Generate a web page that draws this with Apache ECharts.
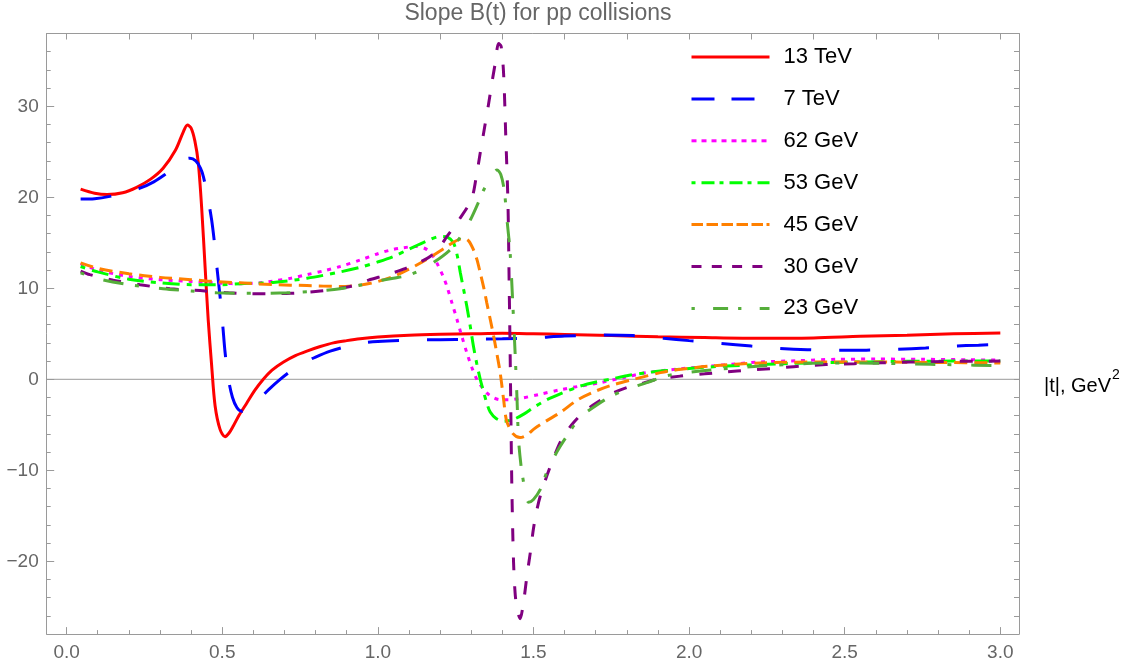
<!DOCTYPE html>
<html>
<head>
<meta charset="utf-8">
<script src="https://cdn.jsdelivr.net/npm/echarts@6/dist/echarts.min.js"></script>
<style>
html,body{margin:0;padding:0;background:#fff;}
#chart{width:1129px;height:663px;}
</style>
</head>
<body>
<div id="chart"></div>
<script>
const seriesNames = ['13 TeV','7 TeV','62 GeV','53 GeV','45 GeV','30 GeV','23 GeV'];
const xMajorTicks = [0,0.5,1.0,1.5,2.0,2.5,3.0];
const yMajorTicks = [-20,-10,0,10,20,30];

const s13TeV = [[0.045,20.9],[0.09,20.45],[0.13,20.3],[0.18,20.5],[0.225,21.1],[0.27,22.0],[0.31,23.2],[0.35,25.2],[0.375,27.2],[0.388,27.95],[0.4,27.6],[0.412,26.2],[0.423,23.8],[0.434,18.8],[0.445,12.3],[0.455,6.5],[0.466,1.5],[0.477,-2.9],[0.493,-5.5],[0.509,-6.3],[0.522,-5.9],[0.536,-5.1],[0.555,-3.9],[0.579,-2.6],[0.605,-1.2],[0.632,0],[0.66,1.0],[0.697,1.9],[0.735,2.6],[0.772,3.1],[0.815,3.6],[0.857,4.0],[0.9,4.25],[0.943,4.46],[1.0,4.65],[1.1,4.85],[1.2,4.95],[1.3,5.0],[1.4,5.05],[1.5,5.0],[1.6,4.93],[1.75,4.8],[1.9,4.68],[2.05,4.58],[2.23,4.5],[2.4,4.55],[2.55,4.72],[2.7,4.85],[2.85,5.0],[3.0,5.1]];
const s7TeV = [[0.045,19.8],[0.09,19.85],[0.139,20.1],[0.19,20.5],[0.236,21.0],[0.28,21.7],[0.316,22.5],[0.35,23.4],[0.375,24.1],[0.396,24.3],[0.415,24.0],[0.43,23.2],[0.44,22.2],[0.455,19.7],[0.466,17.5],[0.475,15.0],[0.482,12.6],[0.493,9.1],[0.502,5.8],[0.509,3.0],[0.52,0],[0.533,-2.0],[0.547,-3.1],[0.562,-3.5],[0.58,-3.3],[0.6,-2.8],[0.616,-2.3],[0.65,-1.1],[0.686,0],[0.72,0.9],[0.761,1.8],[0.8,2.45],[0.847,3.1],[0.9,3.6],[0.943,3.95],[1.0,4.15],[1.1,4.3],[1.2,4.35],[1.3,4.4],[1.4,4.45],[1.5,4.55],[1.6,4.75],[1.725,4.86],[1.82,4.8],[1.918,4.5],[2.0,4.25],[2.1,3.95],[2.2,3.65],[2.29,3.4],[2.38,3.25],[2.48,3.18],[2.57,3.2],[2.67,3.3],[2.76,3.45],[2.85,3.65],[2.93,3.75],[3.0,3.84]];
const s62GeV = [[0.045,12.7],[0.1,12.0],[0.2,11.3],[0.3,10.95],[0.4,10.75],[0.5,10.55],[0.557,10.5],[0.62,10.6],[0.664,10.8],[0.72,11.1],[0.772,11.5],[0.83,11.95],[0.879,12.4],[0.943,13.1],[1.0,13.8],[1.04,14.2],[1.08,14.45],[1.125,14.6],[1.158,14.25],[1.18,13.4],[1.195,12.4],[1.21,11.3],[1.222,10.2],[1.238,8.4],[1.254,6.6],[1.27,4.7],[1.286,2.9],[1.302,1.3],[1.318,0],[1.335,-0.9],[1.35,-1.5],[1.37,-2.0],[1.393,-2.25],[1.42,-2.25],[1.457,-2.1],[1.52,-1.65],[1.586,-1.15],[1.65,-0.75],[1.715,-0.37],[1.79,0.2],[1.864,0.73],[1.972,1.15],[2.07,1.46],[2.15,1.7],[2.23,1.9],[2.35,2.05],[2.475,2.2],[2.6,2.22],[2.75,2.2],[2.9,2.15],[3.0,2.1]];
const s53GeV = [[0.045,12.4],[0.1,11.8],[0.2,11.0],[0.3,10.6],[0.4,10.4],[0.5,10.4],[0.557,10.5],[0.664,10.65],[0.772,11.1],[0.879,11.8],[0.943,12.3],[1.0,12.9],[1.05,13.5],[1.1,14.3],[1.158,15.2],[1.2,15.7],[1.225,15.6],[1.243,15.0],[1.255,13.6],[1.265,11.7],[1.276,9.8],[1.286,8.0],[1.297,5.8],[1.307,3.65],[1.318,1.7],[1.329,0],[1.34,-1.4],[1.35,-2.6],[1.361,-3.6],[1.38,-4.3],[1.404,-4.6],[1.436,-4.4],[1.47,-3.8],[1.5,-3.1],[1.54,-2.3],[1.586,-1.6],[1.65,-0.75],[1.715,-0.18],[1.747,0],[1.8,0.4],[1.864,0.73],[1.908,0.91],[1.94,1.0],[2.02,1.25],[2.12,1.46],[2.23,1.62],[2.336,1.75],[2.45,1.85],[2.55,1.9],[2.7,1.97],[2.85,2.0],[3.0,2.0]];
const s45GeV = [[0.045,12.8],[0.1,12.2],[0.2,11.6],[0.3,11.2],[0.4,10.95],[0.45,10.8],[0.557,10.6],[0.664,10.4],[0.772,10.3],[0.879,10.2],[0.943,10.35],[1.0,10.75],[1.05,11.3],[1.1,12.1],[1.158,13.2],[1.222,14.6],[1.25,15.2],[1.276,15.5],[1.292,15.2],[1.307,14.25],[1.318,13.2],[1.329,11.7],[1.34,10.1],[1.35,8.4],[1.361,6.6],[1.372,4.75],[1.383,2.7],[1.393,0.73],[1.404,-2.2],[1.414,-4.6],[1.435,-6.0],[1.457,-6.4],[1.48,-6.1],[1.5,-5.5],[1.54,-4.6],[1.586,-3.65],[1.64,-2.3],[1.693,-1.4],[1.747,-0.7],[1.822,0],[1.908,0.73],[1.95,1.0],[2.07,1.46],[2.23,1.8],[2.44,1.9],[2.6,1.9],[2.8,1.85],[3.0,1.8]];
const s30GeV = [[0.045,11.9],[0.075,11.5],[0.15,10.9],[0.236,10.4],[0.332,9.95],[0.429,9.75],[0.52,9.5],[0.622,9.4],[0.72,9.45],[0.815,9.7],[0.911,10.2],[0.97,10.9],[1.03,11.5],[1.082,12.1],[1.13,12.8],[1.168,13.5],[1.2,14.6],[1.222,15.7],[1.26,17.5],[1.3,19.7],[1.315,22.0],[1.329,24.9],[1.343,27.7],[1.356,30.3],[1.367,32.7],[1.377,34.7],[1.388,36.9],[1.396,36.6],[1.404,33.6],[1.411,26.7],[1.418,19.4],[1.422,10.2],[1.425,2.9],[1.428,-5.5],[1.431,-12.8],[1.436,-20.1],[1.441,-23.5],[1.447,-25.2],[1.457,-26.3],[1.468,-24.5],[1.479,-21.6],[1.49,-19.0],[1.5,-16.4],[1.51,-14.5],[1.522,-12.8],[1.543,-10.6],[1.565,-8.6],[1.586,-6.9],[1.608,-5.7],[1.629,-4.75],[1.665,-3.5],[1.704,-2.56],[1.75,-1.6],[1.8,-0.9],[1.854,-0.4],[1.897,0],[1.972,0.35],[2.05,0.6],[2.154,0.91],[2.26,1.17],[2.336,1.39],[2.44,1.62],[2.53,1.72],[2.71,1.9],[2.85,1.97],[3.0,2.0]];
const s23GeV = [[0.045,11.7],[0.107,11.0],[0.2,10.4],[0.31,9.95],[0.4,9.7],[0.482,9.5],[0.6,9.45],[0.707,9.5],[0.8,9.7],[0.879,9.95],[0.95,10.4],[1.0,10.8],[1.05,11.1],[1.104,11.5],[1.168,12.6],[1.233,14.25],[1.27,15.9],[1.297,17.5],[1.32,19.2],[1.34,20.8],[1.36,22.0],[1.383,23.0],[1.395,22.5],[1.406,20.8],[1.415,17.5],[1.425,13.9],[1.434,8.0],[1.441,2.9],[1.447,-2.0],[1.452,-6.6],[1.46,-9.5],[1.468,-11.3],[1.476,-12.8],[1.484,-13.5],[1.5,-13.2],[1.522,-12.1],[1.543,-10.2],[1.575,-8.0],[1.608,-6.2],[1.65,-4.2],[1.7,-2.9],[1.747,-1.9],[1.8,-1.1],[1.864,-0.37],[1.93,0.4],[2.036,0.91],[2.13,1.2],[2.23,1.46],[2.39,1.75],[2.55,1.8],[2.7,1.7],[2.85,1.6],[3.0,1.5]];

const seriesData = [s13TeV, s7TeV, s62GeV, s53GeV, s45GeV, s30GeV, s23GeV];
const colors = ['#ff0000','#0000ff','#ff00ff','#00ff00','#ff8000','#800080','#55ae3a'];
const plotDash = ['solid',[31,28],[4,6],[5,7,17,7],[13,7],[13,16],[4,20,20,12]];
const legendDash = ['solid',[23,17],[5,5],[4,6,13,5],[11.5,3.5],[10,10.3],[3.3,18.3,15,10]];

function range(a, b, step) {
  const out = [];
  for (let v = a; v <= b + 1e-9; v += step) out.push(Math.round(v * 1000) / 1000);
  return out;
}
const xMinor = range(0, 3.0, 0.1).filter(v => Math.abs(v * 2 - Math.round(v * 2)) > 1e-6);
const xTop = range(0, 3.0, 0.2);
const yMinor = range(-26, 38, 2).filter(v => v % 10 !== 0);
const yRight = range(-26, 38, 2);

const XMIN = -0.064, XMAX = 3.06, YMIN = -28, YMAX = 38;
const FONT = '"Liberation Sans", Arial, sans-serif';
const frameColor = '#9a9a9a';

function xAx(opt) {
  return Object.assign({
    type: 'value', min: XMIN, max: XMAX, gridIndex: 0,
    splitLine: {show: false},
    axisLine: {show: false, onZero: false},
    axisLabel: {show: false},
    axisTick: {show: false}
  }, opt);
}
function yAx(opt) {
  return Object.assign({
    type: 'value', min: YMIN, max: YMAX, gridIndex: 0,
    splitLine: {show: false},
    axisLine: {show: false, onZero: false},
    axisLabel: {show: false},
    axisTick: {show: false}
  }, opt);
}

const chart = echarts.init(document.getElementById('chart'));
const series = [{
  name: 'zero',
  type: 'line',
  data: [[XMIN, 0], [XMAX, 0]],
  symbol: 'none',
  silent: true,
  lineStyle: {color: '#9a9a9a', width: 1},
  z: 1
}];
seriesNames.forEach((n, i) => {
  series.push({
    name: n,
    type: 'line',
    data: seriesData[i],
    symbol: 'none',
    smooth: 0.3,
    lineStyle: {color: colors[i], width: 3, type: plotDash[i], cap: 'butt'},
    itemStyle: {color: colors[i]},
    z: 2 + i
  });
});

chart.setOption({
  animation: false,
  backgroundColor: '#fff',
  title: {
    text: 'Slope B(t) for pp collisions',
    left: 533, top: -3, textAlign: 'center',
    textStyle: {fontFamily: FONT, fontSize: 23, fontWeight: 'normal', color: '#666'}
  },
  grid: {left: 46.7, right: 110, top: 33.5, bottom: 28.9, containLabel: false},
  legend: {
    orient: 'vertical', left: 690, top: 46, padding: 0,
    itemWidth: 78, itemHeight: 14, itemGap: 19.9,
    textStyle: {fontFamily: FONT, fontSize: 22, color: '#000', padding: [0, 0, 0, 9]},
    data: seriesNames.map((n, i) => ({
      name: n,
      itemStyle: {opacity: 0},
      lineStyle: {color: colors[i], width: 3, type: legendDash[i]}
    }))
  },
  xAxis: [
    xAx({position: 'bottom',
      axisLine: {show: true, onZero: false, lineStyle: {color: frameColor, width: 1}},
      axisTick: {show: true, inside: true, length: 7, customValues: xMajorTicks, lineStyle: {color: frameColor}},
      axisLabel: {show: true, customValues: xMajorTicks, margin: 9, fontFamily: FONT, fontSize: 19, color: '#666',
        formatter: v => v.toFixed(1)}
    }),
    xAx({position: 'bottom',
      axisTick: {show: true, inside: true, length: 4, customValues: xMinor, lineStyle: {color: frameColor}}
    }),
    xAx({position: 'top',
      axisLine: {show: true, onZero: false, lineStyle: {color: frameColor, width: 1}},
      axisTick: {show: true, inside: true, length: 6, customValues: xTop, lineStyle: {color: frameColor}}
    })
  ],
  yAxis: [
    yAx({position: 'left',
      axisLine: {show: true, onZero: false, lineStyle: {color: frameColor, width: 1}},
      axisTick: {show: true, inside: true, length: 7.5, customValues: yMajorTicks, lineStyle: {color: frameColor}},
      axisLabel: {show: true, customValues: yMajorTicks, margin: 8, fontFamily: FONT, fontSize: 19, color: '#666',
        formatter: v => (v < 0 ? '\u2212' + Math.abs(v) : String(v))}
    }),
    yAx({position: 'left',
      axisTick: {show: true, inside: true, length: 4, customValues: yMinor, lineStyle: {color: frameColor}}
    }),
    yAx({position: 'right',
      axisLine: {show: true, onZero: false, lineStyle: {color: frameColor, width: 1}},
      axisTick: {show: true, inside: true, length: 5, customValues: yRight, lineStyle: {color: frameColor}}
    })
  ],
  graphic: [{
    type: 'text',
    left: 1044, top: 368,
    style: {
      text: '{a||t|, GeV}{b|2}',
      rich: {
        a: {fontFamily: FONT, fontSize: 20, color: '#666', padding: [8, 0, 0, 0]},
        b: {fontFamily: FONT, fontSize: 14, color: '#666', verticalAlign: 'top', padding: [0, 0, 8, 1]}
      }
    }
  }],
  series: series
});
</script>
</body>
</html>
